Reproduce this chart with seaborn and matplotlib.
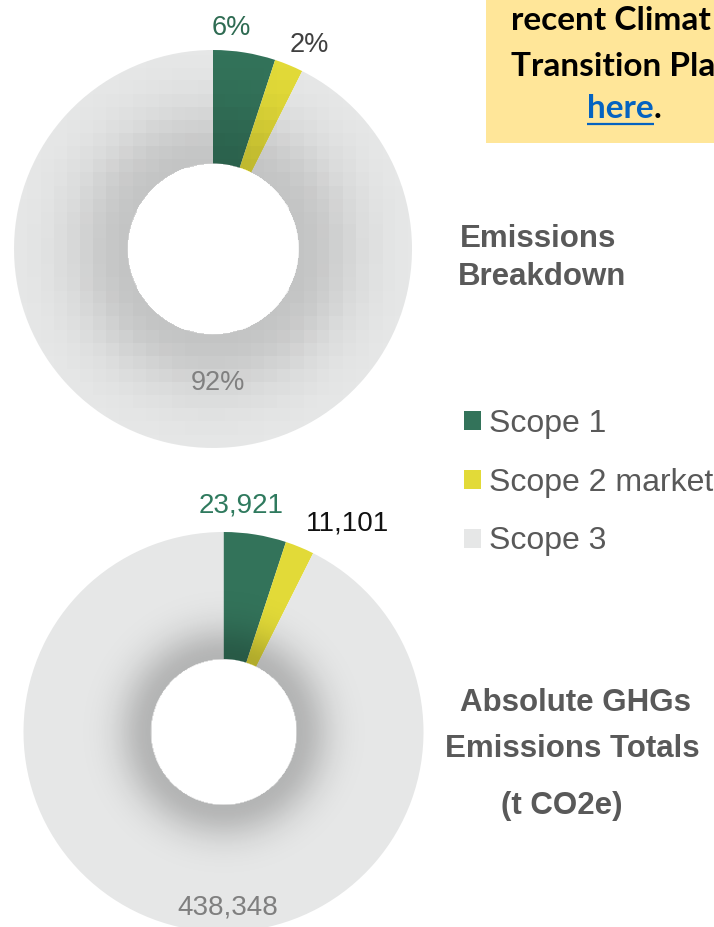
import numpy as np
import matplotlib
matplotlib.use("Agg")
import matplotlib.pyplot as plt
import seaborn as sns

# ---- data ----
categories = ["Scope 1", "Scope 2 market", "Scope 3"]
emissions = [23921, 11101, 438348]
pct_labels = ["6%", "2%", "92%"]
value_labels = ["23,921", "11,101", "438,348"]
slice_colors = ["#33735A", "#E2DA38", "#E6E7E7"]
pct_label_colors = ["#2E6B52", "#404040", "#808080"]
value_label_colors = ["#2F7A5E", "#111111", "#7F7F7F"]

sns.set_theme(style="white")
plt.rcParams["font.family"] = ["Liberation Sans", "DejaVu Sans"]

W, H = 714, 927
fig = plt.figure(figsize=(W / 100, H / 100), dpi=100)
fig.patch.set_facecolor("white")


def px_axes(cx, cy, r):
    return fig.add_axes([(cx - r) / W, (H - cy - r) / H, 2 * r / W, 2 * r / H])


def inner_shadow(ax, ri, amax, width, block=None, interp="nearest"):
    n = 420
    xs = np.linspace(-1, 1, n)
    X, Y = np.meshgrid(xs, xs)
    if block:
        Xq = (np.floor((X + 1) / block) + 0.5) * block - 1
        Yq = (np.floor((Y + 1) / block) + 0.5) * block - 1
        Rq = np.hypot(Xq, Yq)
    else:
        Rq = np.hypot(X, Y)
    a = amax * np.exp(-(np.clip(Rq - ri, 0, None) / width) ** 2)
    R = np.hypot(X, Y)
    a[(R < ri) | (R > 1)] = 0
    img = np.zeros((n, n, 4))
    img[..., 3] = a
    ax.imshow(img, extent=(-1, 1, -1, 1), origin="lower",
              interpolation=interp, zorder=3)


def donut(ax, ri, labels, label_colors, label_pos, fs, shadow):
    wedges, _ = ax.pie(emissions, colors=slice_colors, startangle=90,
                       counterclock=False, radius=1,
                       wedgeprops=dict(width=1 - ri, linewidth=0))
    inner_shadow(ax, ri, **shadow)
    for lab, col, (x, y) in zip(labels, label_colors, label_pos):
        ax.text(x, y, lab, color=col, fontsize=fs, ha="center", va="center",
                zorder=5)
    ax.set_xlim(-1, 1)
    ax.set_ylim(-1, 1)
    ax.set_aspect("equal")
    ax.axis("off")
    return wedges


# top donut: percentage breakdown
ax1 = px_axes(213, 249, 199)
wedges = donut(ax1, 0.43, pct_labels, pct_label_colors,
               [(0.09, 1.11), (0.485, 1.023), (0.025, -0.673)], 19.5,
               dict(amax=0.15, width=0.30, block=0.066))

# bottom donut: absolute totals
ax2 = px_axes(223.5, 732, 200)
donut(ax2, 0.365, value_labels, value_label_colors,
      [(0.0875, 1.135), (0.6225, 1.04), (0.0225, -0.88)], 20,
      dict(amax=0.22, width=0.17, block=None, interp="bilinear"))

# titles
tcol = "#595959"


def ftext(x, y, s, **kw):
    return fig.text(x / W, 1 - y / H, s, **kw)


for (x, y, s) in [(538, 247, "Emissions"), (542, 285, "Breakdown"),
                  (575, 711, "Absolute GHGs"), (572, 757, "Emissions Totals"),
                  (562, 814, "(t CO2e)")]:
    ftext(x, y, s, ha="center", va="baseline", fontsize=22.5,
          fontweight="bold", color=tcol)

# legend
leg = fig.legend(wedges, categories, loc="upper left",
                 bbox_to_anchor=(464 / W, 1 - 409 / H),
                 frameon=False, fontsize=23, labelcolor=tcol,
                 handlelength=0.53, handleheight=0.53, handletextpad=0.25,
                 labelspacing=0.9, borderaxespad=0, borderpad=0)

# yellow callout box (cut off at figure edge, as in the source)
bx0, by1 = 486, 143
axb = fig.add_axes([bx0 / W, 1 - by1 / H, (W - bx0) / W, by1 / H])
axb.set_facecolor("#FFE699")
axb.set_xticks([])
axb.set_yticks([])
for sp in axb.spines.values():
    sp.set_visible(False)
axb.set_xlim(bx0, W)
axb.set_ylim(by1, 0)
bfont = dict(family=["Lato", "DejaVu Sans"], fontweight="bold", fontsize=24,
             va="baseline", ha="left", clip_on=True)
axb.text(511, 30, "recent Climat", color="black", **bfont)
axb.text(511, 76, "Transition Pla", color="black", **bfont)
th = axb.text(587, 118, "here", color="#0563C1", **bfont)

fig.canvas.draw()
r = fig.canvas.get_renderer()
bb = th.get_window_extent(r)
inv = axb.transData.inverted()
(x0, _), (x1, _) = inv.transform([(bb.x0, bb.y0), (bb.x1, bb.y1)])
axb.plot([x0, x1], [124, 124], color="#0563C1", lw=1.6, solid_capstyle="butt")
axb.text(x1, 118, ".", color="black", **bfont)

fig.savefig("out.png", dpi=100, facecolor="white")
